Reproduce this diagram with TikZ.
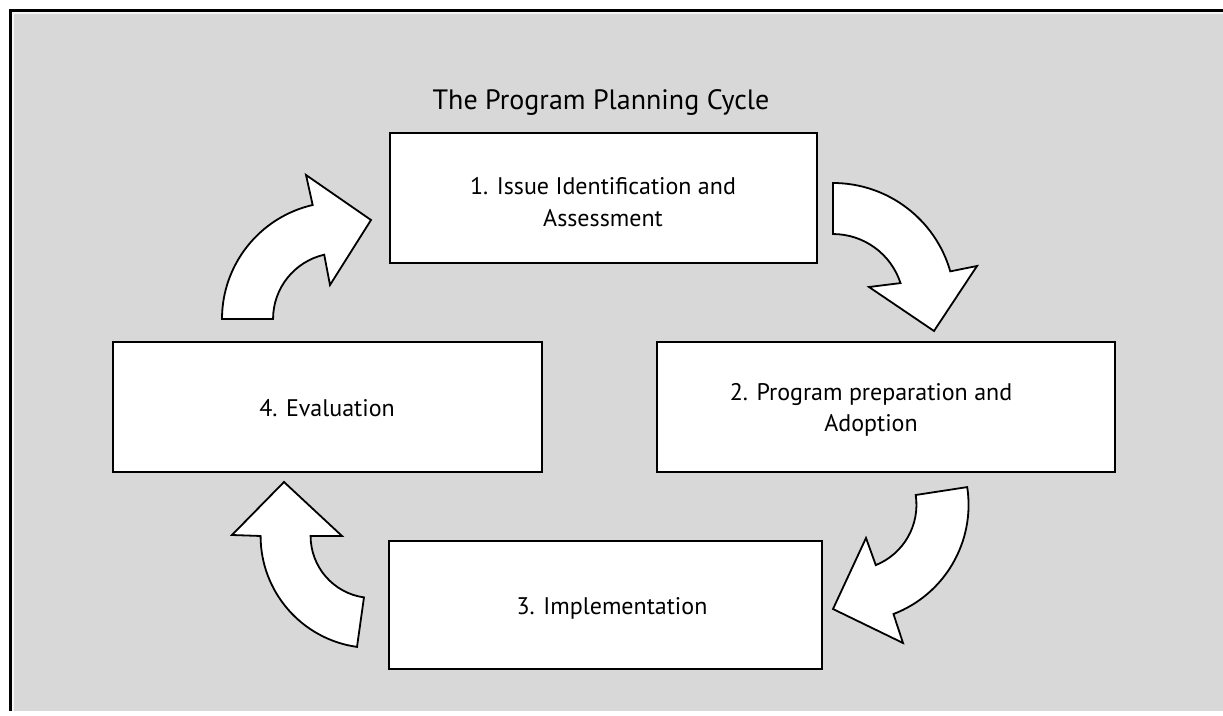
\documentclass[tikz,border=0pt]{standalone}
\usepackage{fontspec}
\setmainfont{PT Sans}
\definecolor{bggray}{HTML}{D8D8D8}
\begin{document}
\begin{tikzpicture}[x=1pt,y=1pt,
  stagebox/.style={draw=black, line width=2.2pt, fill=white, inner sep=0pt},
  lbl/.style={anchor=base, inner sep=0pt, font=\fontsize{24}{28}\selectfont},
  blockarrow/.style={draw=black, fill=white, line width=1.8pt, line join=miter}]
\useasboundingbox (0,0) rectangle (1223,715);
\fill[white] (0,0) rectangle (1223,715);
% frame
\fill[bggray] (11,4) rectangle (1223,703);
\draw[line width=2.5pt] (10.5,4) -- (10.5,704.5) -- (1223,704.5);
\draw[white!92!gray, line width=1.2pt] (13,4) -- (13,702) -- (1223,702);
% title
\node[lbl, font=\fontsize{28}{32}\selectfont] (title) at (601,605) {The Program Planning Cycle};
% boxes
\node[stagebox, minimum width=427pt, minimum height=130pt] (b1) at (603.5,517) {};
\node[stagebox, minimum width=458pt, minimum height=130pt] (b2) at (886,308) {};
\node[stagebox, minimum width=433pt, minimum height=128pt] (b3) at (605.5,110) {};
\node[stagebox, minimum width=429pt, minimum height=130pt] (b4) at (327.5,308) {};
% labels
\node[lbl] (t1a) at (603,520) {1. Issue Identification and};
\node[lbl] (t1b) at (603,488) {Assessment};
\node[lbl] (t2a) at (871,314) {2. Program preparation and};
\node[lbl] (t2b) at (871,283) {Adoption};
\node[lbl] (t3) at (612,101) {3. Implementation};
\node[lbl] (t4) at (327,298) {4. Evaluation};
% curved block arrows
\draw[blockarrow] (222,396) arc[start angle=180,end angle=103,radius=117]
  -- (306,540) -- (371,495) -- (330,430) -- (324.2,460.3)
  arc[start angle=103,end angle=180,radius=66] -- cycle;
\draw[blockarrow] (833,532) arc[start angle=90,end angle=16,radius=122]
  -- (977,449) -- (934,384) -- (869,428) -- (900.5,431.9)
  arc[start angle=18,end angle=90,radius=71] -- cycle;
\draw[blockarrow] (967.2,227.9) arc[start angle=8.7,end angle=-69,radius=117]
  -- (903,72) -- (833,106) -- (866,177) -- (875.8,149.9)
  arc[start angle=-68,end angle=8.7,radius=65] -- cycle;
\draw[blockarrow] (357,68.1) arc[start angle=262,end angle=180,radius=112]
  -- (232,180) -- (284,233) -- (342,179) -- (310.6,179)
  arc[start angle=180,end angle=262,radius=62] -- cycle;
\end{tikzpicture}
\end{document}
